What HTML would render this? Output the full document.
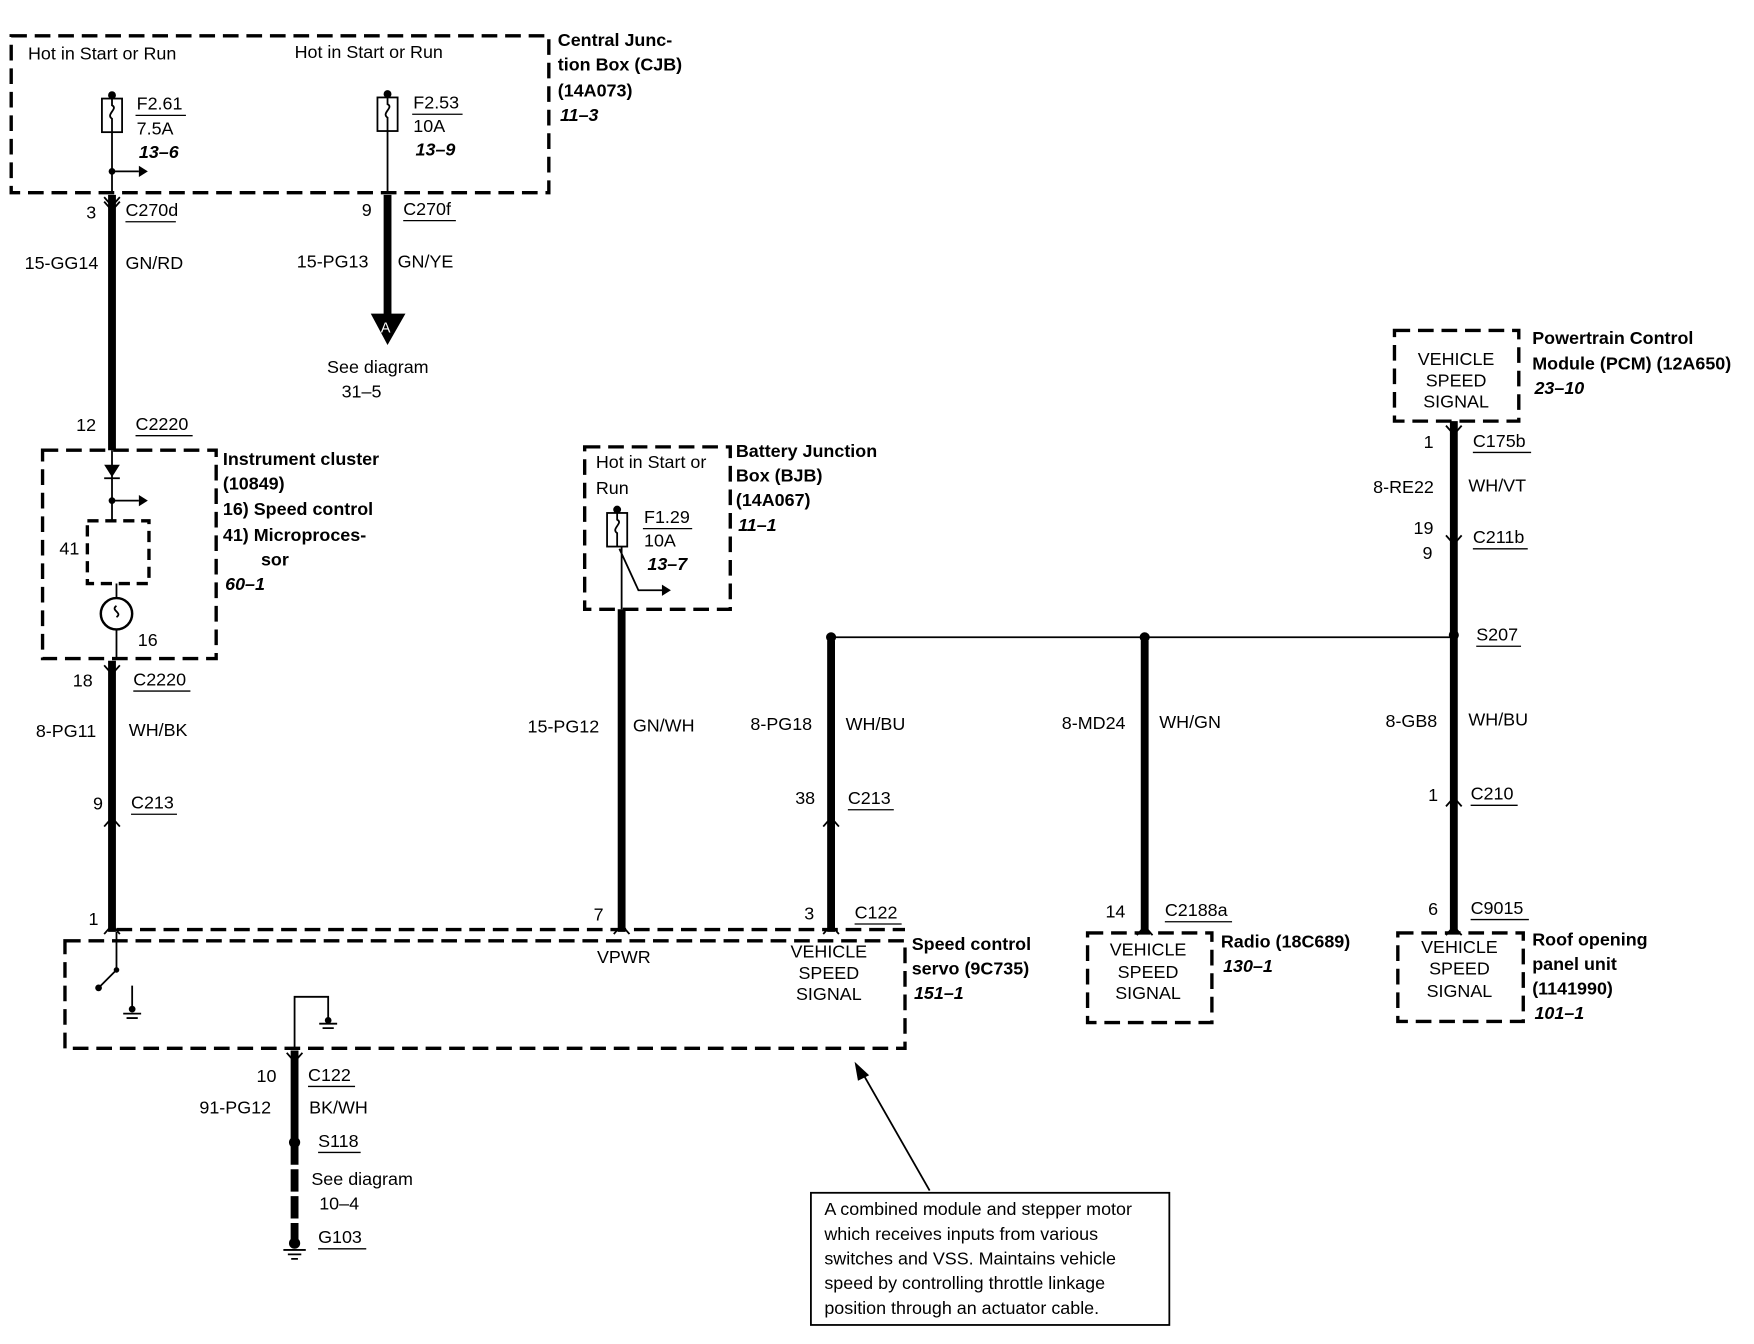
<!DOCTYPE html>
<html><head><meta charset="utf-8"><style>
html,body{margin:0;padding:0;background:#fff}
svg{display:block}
text{font-family:"Liberation Sans",sans-serif;font-size:16px;fill:#000}
.b{font-weight:bold}
.bi{font-weight:bold;font-style:italic}
.d{fill:none;stroke:#000;stroke-width:3;stroke-dasharray:14 7}
.w{stroke:#000;stroke-width:7;fill:none}
.t{stroke:#000;stroke-width:1.6;fill:none}
.u{stroke:#000;stroke-width:1.2}
</style></head><body>
<svg width="1754" height="1344" viewBox="0 0 1566 1200" preserveAspectRatio="none" xmlns="http://www.w3.org/2000/svg">
<!-- CJB -->
<rect class="d" x="10" y="32" width="480" height="140"/>
<text x="25" y="53">Hot in Start or Run</text>
<text x="263" y="52">Hot in Start or Run</text>
<circle cx="100" cy="85" r="3.5"/><rect x="91" y="88" width="18" height="30" class="t"/>
<path class="t" d="M100 88 v6 c6 3 -6 8 0 12 v12 M100 118 V172 M100 153 H124"/><path d="M124 148 L132 153 L124 158Z"/><circle cx="100" cy="153" r="3"/>
<text x="122" y="98">F2.61</text><line class="u" x1="121" y1="103" x2="166" y2="103"/>
<text x="122" y="120">7.5A</text><text class="bi" x="124" y="141">13–6</text>
<circle cx="346" cy="84" r="3.5"/><rect x="337" y="87" width="18" height="30" class="t"/>
<path class="t" d="M346 87 v6 c6 3 -6 8 0 12 v12 M346 117 V172"/>
<text x="369" y="97">F2.53</text><line class="u" x1="368" y1="102" x2="413" y2="102"/>
<text x="369" y="118">10A</text><text class="bi" x="371" y="139">13–9</text>
<text class="b" x="498" y="41">Central Junc-</text><text class="b" x="498" y="63">tion Box (CJB)</text>
<text class="b" x="498" y="86">(14A073)</text><text class="bi" x="500" y="108">11–3</text>
<!-- wire 1 -->
<line class="w" x1="100" y1="174" x2="100" y2="402"/>
<path class="t" d="M93 176 L100 184 L107 176 M93 180 L100 188 L107 180"/>
<text x="77" y="195">3</text><text x="112" y="193">C270d</text><line class="u" x1="112" y1="198" x2="157" y2="198"/>
<text x="22" y="240">15-GG14</text><text x="112" y="240">GN/RD</text>
<text x="68" y="385">12</text><text x="121" y="384">C2220</text><line class="u" x1="121" y1="389" x2="172" y2="389"/>
<!-- wire 2 -->
<line class="w" x1="346" y1="174" x2="346" y2="284"/>
<path d="M331 280 L362 280 L346 308Z"/><text x="340" y="297" style="fill:#fff;font-size:13px">A</text>
<text x="323" y="193">9</text><text x="360" y="192">C270f</text><line class="u" x1="360" y1="197" x2="407" y2="197"/>
<text x="265" y="239">15-PG13</text><text x="355" y="239">GN/YE</text>
<text x="292" y="333">See diagram</text><text x="305" y="355">31–5</text>
<!-- Instrument cluster -->
<rect class="d" x="38" y="402" width="155" height="186"/>
<path d="M93 415 L107 415 L100 426Z"/><line class="t" x1="93" y1="427" x2="107" y2="427"/>
<path class="t" d="M100 402 V465 M100 447 H124 M104 521 V534 M104 562 V588"/><path d="M124 442 L132 447 L124 452Z"/><circle cx="100" cy="447" r="3"/>
<rect class="d" x="78" y="465" width="55" height="56" style="stroke-dasharray:10 6"/>
<text x="53" y="495">41</text>
<circle cx="104" cy="548" r="14" class="t" style="stroke-width:2.2"/><path class="t" d="M104 541 c-6 4 6 6 0 10"/>
<text x="123" y="577">16</text>
<text class="b" x="199" y="415">Instrument cluster</text><text class="b" x="199" y="437">(10849)</text>
<text class="b" x="199" y="460">16) Speed control</text><text class="b" x="199" y="483">41) Microproces-</text>
<text class="b" x="233" y="505">sor</text><text class="bi" x="201" y="527">60–1</text>
<line class="w" x1="100" y1="590" x2="100" y2="832"/>
<path class="t" d="M93 594 L100 602 L107 594"/><path class="t" d="M93 738 L100 730 L107 738 M93 834 L100 826 L107 834"/>
<text x="65" y="613">18</text><text x="119" y="612">C2220</text><line class="u" x1="119" y1="617" x2="170" y2="617"/>
<text x="32" y="658">8-PG11</text><text x="115" y="657">WH/BK</text>
<text x="83" y="723">9</text><text x="117" y="722">C213</text><line class="u" x1="117" y1="727" x2="158" y2="727"/>
<text x="79" y="826">1</text>
<!-- Servo -->
<path class="d" d="M104 830 H808"/>
<rect class="d" x="58" y="840" width="750" height="96"/>
<path class="t" d="M104 832 V866 L88 882"/><circle cx="104" cy="866" r="2.5"/><circle cx="88" cy="882" r="3"/>
<path class="t" d="M118 880 V903 M110 905 H126 M113 909 H123"/><circle cx="118" cy="901" r="3"/>
<path class="t" d="M263 936 V890 H293 V912 M285 914 H301 M288 918 H298"/><circle cx="293" cy="911" r="3"/>
<line class="w" x1="263" y1="938" x2="263" y2="1020"/>
<path class="w" d="M263 1020 V1112" style="stroke-dasharray:20 4"/>
<path class="t" d="M256 940 L263 948 L270 940"/>
<circle cx="263" cy="1020" r="5"/><circle cx="263" cy="1110" r="5"/>
<path class="t" d="M253 1116 H273 M257 1120 H269 M260 1124 H266"/>
<text x="229" y="966">10</text><text x="275" y="965">C122</text><line class="u" x1="275" y1="970" x2="317" y2="970"/>
<text x="178" y="994">91-PG12</text><text x="276" y="994">BK/WH</text>
<text x="284" y="1024">S118</text><line class="u" x1="284" y1="1029" x2="322" y2="1029"/>
<text x="278" y="1058">See diagram</text><text x="285" y="1080">10–4</text>
<text x="284" y="1110">G103</text><line class="u" x1="284" y1="1115" x2="327" y2="1115"/>
<!-- BJB -->
<rect class="d" x="522" y="399" width="130" height="145"/>
<text x="532" y="418">Hot in Start or</text><text x="532" y="441">Run</text>
<circle cx="551" cy="455" r="3.5"/><rect x="542" y="458" width="18" height="30" class="t"/>
<path class="t" d="M551 458 v6 c6 3 -6 8 0 12 v12 M555 488 V544 M553 490 L570 527 H592"/><path d="M591 522 L599 527 L591 532Z"/>
<text x="575" y="467">F1.29</text><line class="u" x1="574" y1="472" x2="618" y2="472"/>
<text x="575" y="488">10A</text><text class="bi" x="578" y="509">13–7</text>
<text class="b" x="657" y="408">Battery Junction</text><text class="b" x="657" y="430">Box (BJB)</text>
<text class="b" x="657" y="452">(14A067)</text><text class="bi" x="659" y="474">11–1</text>
<line class="w" x1="555" y1="544" x2="555" y2="832"/><path class="t" d="M548 834 L555 826 L562 834"/>
<text x="471" y="654">15-PG12</text><text x="565" y="653">GN/WH</text>
<text x="530" y="822">7</text><text x="533" y="860">VPWR</text>
<!-- bus -->
<line class="t" x1="742" y1="569" x2="1298" y2="569"/>
<circle cx="742" cy="569" r="4.5"/><circle cx="1022" cy="569" r="4.5"/><circle cx="1298" cy="567" r="4.5"/>
<line class="w" x1="742" y1="572" x2="742" y2="832"/>
<path class="t" d="M735 738 L742 730 L749 738 M735 834 L742 826 L749 834"/>
<text x="670" y="652">8-PG18</text><text x="755" y="652">WH/BU</text>
<text x="710" y="718">38</text><text x="757" y="718">C213</text><line class="u" x1="757" y1="723" x2="798" y2="723"/>
<text x="718" y="821">3</text><text x="763" y="820">C122</text><line class="u" x1="763" y1="825" x2="805" y2="825"/>
<text x="740" y="855" text-anchor="middle">VEHICLE</text><text x="740" y="874" text-anchor="middle">SPEED</text><text x="740" y="893" text-anchor="middle">SIGNAL</text>
<text class="b" x="814" y="848">Speed control</text><text class="b" x="814" y="870">servo (9C735)</text><text class="bi" x="816" y="892">151–1</text>
<!-- radio -->
<line class="w" x1="1022" y1="572" x2="1022" y2="833"/><path class="t" d="M1015 835 L1022 827 L1029 835"/>
<text x="948" y="651">8-MD24</text><text x="1035" y="650">WH/GN</text>
<text x="987" y="819">14</text><text x="1040" y="818">C2188a</text><line class="u" x1="1040" y1="823" x2="1100" y2="823"/>
<rect class="d" x="971" y="833" width="111" height="80"/>
<text x="1025" y="853" text-anchor="middle">VEHICLE</text><text x="1025" y="873" text-anchor="middle">SPEED</text><text x="1025" y="892" text-anchor="middle">SIGNAL</text>
<text class="b" x="1090" y="846">Radio (18C689)</text><text class="bi" x="1092" y="868">130–1</text>
<!-- PCM -->
<rect class="d" x="1245" y="295" width="111" height="81"/>
<text x="1300" y="326" text-anchor="middle">VEHICLE</text><text x="1300" y="345" text-anchor="middle">SPEED</text><text x="1300" y="364" text-anchor="middle">SIGNAL</text>
<text class="b" x="1368" y="307">Powertrain Control</text><text class="b" x="1368" y="330">Module (PCM) (12A650)</text><text class="bi" x="1370" y="352">23–10</text>
<line class="w" x1="1298" y1="376" x2="1298" y2="833"/>
<path class="t" d="M1291 380 L1298 388 L1305 380 M1291 478 L1298 486 L1305 478 M1291 720 L1298 712 L1305 720 M1291 835 L1298 827 L1305 835"/>
<text x="1271" y="400">1</text><text x="1315" y="399">C175b</text><line class="u" x1="1315" y1="404" x2="1367" y2="404"/>
<text x="1226" y="440">8-RE22</text><text x="1311" y="439">WH/VT</text>
<text x="1262" y="477">19</text><text x="1270" y="499">9</text><text x="1315" y="485">C211b</text><line class="u" x1="1315" y1="490" x2="1364" y2="490"/>
<text x="1318" y="572">S207</text><line class="u" x1="1318" y1="577" x2="1358" y2="577"/>
<text x="1237" y="649">8-GB8</text><text x="1311" y="648">WH/BU</text>
<text x="1275" y="715">1</text><text x="1313" y="714">C210</text><line class="u" x1="1313" y1="719" x2="1355" y2="719"/>
<text x="1275" y="817">6</text><text x="1313" y="816">C9015</text><line class="u" x1="1313" y1="821" x2="1365" y2="821"/>
<rect class="d" x="1248" y="833" width="112" height="79"/>
<text x="1303" y="851" text-anchor="middle">VEHICLE</text><text x="1303" y="870" text-anchor="middle">SPEED</text><text x="1303" y="890" text-anchor="middle">SIGNAL</text>
<text class="b" x="1368" y="844">Roof opening</text><text class="b" x="1368" y="866">panel unit</text><text class="b" x="1368" y="888">(1141990)</text><text class="bi" x="1370" y="910">101–1</text>
<!-- note -->
<line class="t" x1="830" y1="1063" x2="770" y2="958"/><path d="M763 948 L776 960 L766 965Z"/>
<rect x="724" y="1065" width="320" height="118" class="t"/>
<text x="736" y="1085">A combined module and stepper motor</text>
<text x="736" y="1107">which receives inputs from various</text>
<text x="736" y="1129">switches and VSS. Maintains vehicle</text>
<text x="736" y="1151">speed by controlling throttle linkage</text>
<text x="736" y="1173">position through an actuator cable.</text>
</svg>
</body></html>
